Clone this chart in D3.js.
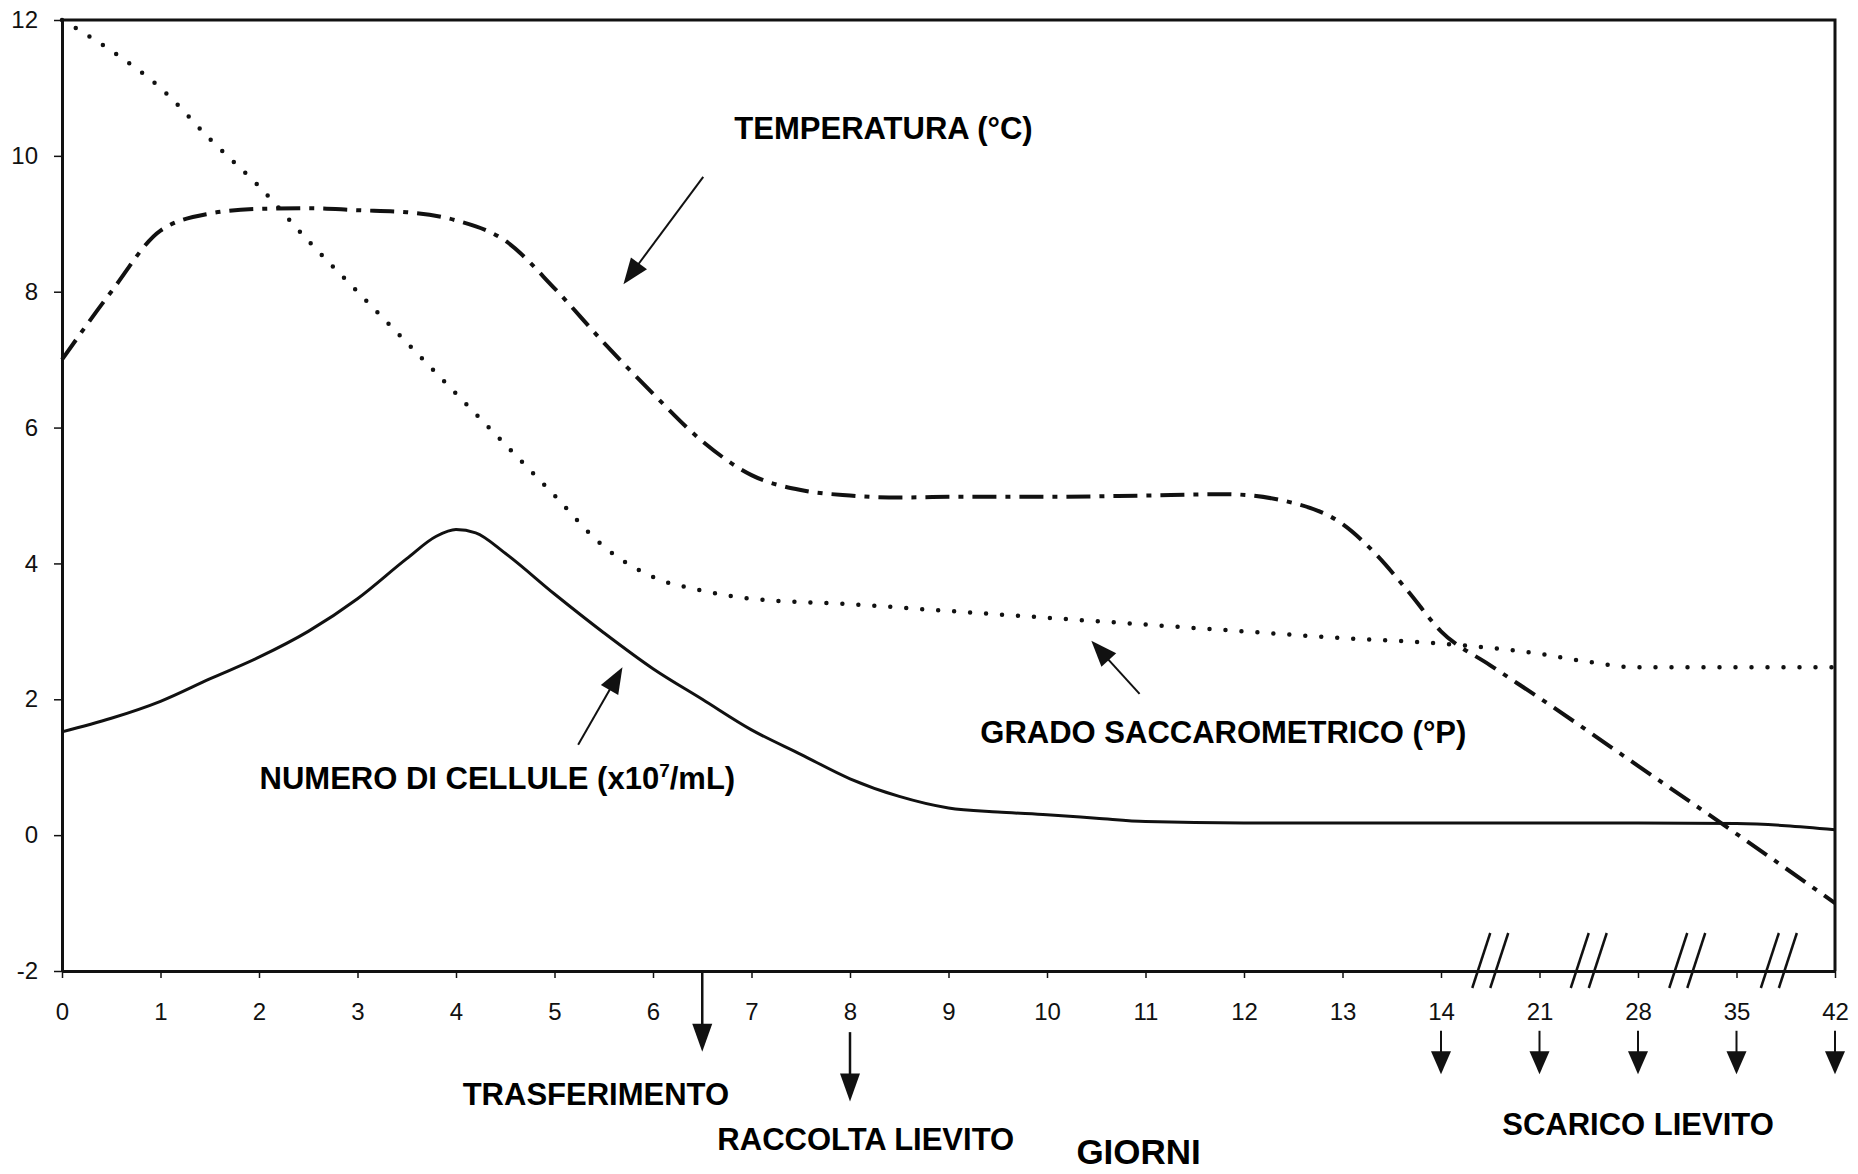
<!DOCTYPE html>
<html>
<head>
<meta charset="utf-8">
<script src="https://cdn.jsdelivr.net/npm/d3@7"></script>
<style>
  body { margin: 0; background: #fff; }
  text { font-family: "Liberation Sans", Arial, sans-serif; }
</style>
</head>
<body>
<div id="chart"></div>
<script>
// x positions are axis slots: 0..13 = days, then 14, 21, 28, 35, 42 (broken axis)
const xTickLabels = ["0","1","2","3","4","5","6","7","8","9","10","11","12","13","14","21","28","35","42"];
const xTickPos = d3.range(xTickLabels.length);
const yTicks = [-2, 0, 2, 4, 6, 8, 10, 12];

// temperatura (°C)
const tempPos = [0,0.5,1,1.5,2,2.5,3,3.5,4,4.5,5,5.5,6,6.5,7,7.5,8,8.5,9,10,11,11.8,12.5,13,13.33,13.66,14,14.5,15,16,17,18];
const tempVal = [7.0,8.0,8.9,9.15,9.22,9.23,9.2,9.17,9.05,8.75,8.05,7.25,6.5,5.8,5.3,5.08,5.0,4.97,4.98,4.98,5.0,5.02,4.89,4.58,4.15,3.6,3.0,2.5,2.02,1.02,0.02,-1.0];

// grado saccarometrico (°P)
const gradoPos = [0,0.5,1,1.5,2,2.5,3,3.5,4,4.5,5,5.5,6,6.5,7,8,9,10,11,12,13,14,15,15.5,16,17,18];
const gradoVal = [12.0,11.55,11.0,10.25,9.55,8.75,8.0,7.25,6.5,5.75,5.0,4.25,3.8,3.6,3.48,3.4,3.3,3.2,3.1,3.0,2.9,2.82,2.67,2.55,2.47,2.47,2.47];

// numero di cellule (x10^7/mL)
const cellPos = [0,0.5,1,1.5,2,2.5,3,3.5,3.8,4,4.2,4.5,5,5.5,6,6.5,7,7.5,8,8.5,9,9.5,10,10.5,11,12,13,14,15,16,17,17.5,18];
const cellVal = [1.52,1.72,1.97,2.3,2.62,3.0,3.48,4.07,4.4,4.5,4.45,4.15,3.55,2.98,2.45,2.0,1.55,1.19,0.83,0.57,0.4,0.34,0.3,0.25,0.2,0.18,0.18,0.18,0.18,0.18,0.17,0.14,0.08];

// annotations (in axis units)
const labelText = ["TEMPERATURA (°C)", "GRADO SACCAROMETRICO (°P)", "TRASFERIMENTO", "RACCOLTA LIEVITO", "SCARICO LIEVITO"];
const labelPos = [[8.34, 10.25], [11.79, 1.35], [5.42, -3.97], [8.16, -4.64], [16.0, -4.42]];
const cellLabelPos = [4.42, 0.68];
const giorniPos = [10.93, -4.84];

const pointerFrom = [[6.51, 9.69], [10.94, 2.08], [5.24, 1.33]];
const pointerTo = [[5.70, 8.11], [10.45, 2.86], [5.69, 2.47]];

const eventPos = [6.5, 8];
const eventFrom = [-2, -2.9];
const eventTo = [-3.19, -3.92];

const scaricoPos = [14, 15, 16, 17, 18];
const scaricoFrom = -2.88, scaricoTo = -3.52;

const breakPos = [14.5, 15.5, 16.5, 17.43];

const W = 1858, H = 1174;
const x = d3.scaleLinear().domain([0, 18]).range([62, 1835]);
const y = d3.scaleLinear().domain([-2, 12]).range([971, 20]);

const svg = d3.select("#chart").append("svg")
    .attr("width", W)
    .attr("height", H);

// frame top + right
svg.append("path")
    .attr("d", "M" + x(0) + "," + y(12) + "H" + x(18) + "V" + y(-2))
    .style("fill", "none")
    .style("stroke", "#111")
    .style("stroke-width", 3)

const xAxis = svg.append("g")
    .attr("transform", "translate(0," + y(-2) + ")")
    .call(d3.axisBottom(x)
        .tickValues(xTickPos)
        .tickFormat((d, i) => xTickLabels[i])
        .tickSize(7)
        .tickSizeOuter(0)
        .tickPadding(25))
xAxis.select(".domain").style("stroke", "#111").style("stroke-width", 3)
xAxis.selectAll(".tick line").style("stroke", "#111").style("stroke-width", 1.5)
xAxis.selectAll(".tick text").style("font-size", "24px").style("fill", "#111")

const yAxis = svg.append("g")
    .attr("transform", "translate(" + x(0) + ",0)")
    .call(d3.axisLeft(y)
        .tickValues(yTicks)
        .tickFormat(d => String(d))
        .tickSize(8)
        .tickSizeOuter(0)
        .tickPadding(16))
yAxis.select(".domain").style("stroke", "#111").style("stroke-width", 3)
yAxis.selectAll(".tick line").style("stroke", "#111").style("stroke-width", 1.5)
yAxis.selectAll(".tick text").style("font-size", "24px").style("fill", "#111")

// axis breaks
breakPos.forEach(function(b) {
    [-9, 9].forEach(function(off) {
        const cx = x(b) + off
        svg.append("line")
            .attr("x1", cx - 9).attr("y1", y(-2) + 17)
            .attr("x2", cx + 9).attr("y2", y(-2) - 38)
            .style("stroke", "#111")
            .style("stroke-width", 2.5)
    })
})

const line = d3.line()
    .x(d => x(d[0]))
    .y(d => y(d[1]))
    .curve(d3.curveMonotoneX)

svg.append("path")
    .datum(d3.zip(gradoPos, gradoVal))
    .attr("d", line)
    .style("fill", "none")
    .style("stroke", "#111")
    .style("stroke-width", 4.5)
    .style("stroke-linecap", "round")
    .style("stroke-dasharray", "0,16")

svg.append("path")
    .datum(d3.zip(tempPos, tempVal))
    .attr("d", line)
    .style("fill", "none")
    .style("stroke", "#111")
    .style("stroke-width", 4)
    .style("stroke-dasharray", "24,9,5,9")

svg.append("path")
    .datum(d3.zip(cellPos, cellVal))
    .attr("d", line)
    .style("fill", "none")
    .style("stroke", "#111")
    .style("stroke-width", 3)

function arrow(x1, y1, x2, y2, w, len, hw) {
    const dx = x2 - x1, dy = y2 - y1, L = Math.hypot(dx, dy),
        ux = dx / L, uy = dy / L,
        bx = x2 - ux * len, by = y2 - uy * len
    svg.append("line")
        .attr("x1", x1).attr("y1", y1)
        .attr("x2", bx + ux * 2).attr("y2", by + uy * 2)
        .style("stroke", "#111")
        .style("stroke-width", w)
    svg.append("path")
        .attr("d", "M" + x2 + "," + y2 + "L" + (bx - uy * hw) + "," + (by + ux * hw) +
            "L" + (bx + uy * hw) + "," + (by - ux * hw) + "Z")
        .style("fill", "#111")
}

pointerFrom.forEach(function(p, i) {
    const q = pointerTo[i]
    arrow(x(p[0]), y(p[1]), x(q[0]), y(q[1]), 2, 26, 10)
})
eventPos.forEach(function(p, i) {
    arrow(x(p), y(eventFrom[i]), x(p), y(eventTo[i]), 2.5, 28, 10)
})
scaricoPos.forEach(function(p) {
    arrow(x(p), y(scaricoFrom), x(p), y(scaricoTo), 2, 23, 10)
})

svg.selectAll("text.label")
    .data(labelText)
    .join("text")
    .attr("class", "label")
    .attr("x", (d, i) => x(labelPos[i][0]))
    .attr("y", (d, i) => y(labelPos[i][1]))
    .attr("text-anchor", "middle")
    .style("font-size", "31px")
    .style("font-weight", "bold")
    .style("fill", "#000")
    .text(d => d)

const cellLabel = svg.append("text")
    .attr("x", x(cellLabelPos[0]))
    .attr("y", y(cellLabelPos[1]))
    .attr("text-anchor", "middle")
    .style("font-size", "31px")
    .style("font-weight", "bold")
    .style("fill", "#000")
cellLabel.append("tspan").text("NUMERO DI CELLULE (x10")
cellLabel.append("tspan").attr("dy", -12).style("font-size", "19px").text("7")
cellLabel.append("tspan").attr("dy", 12).text("/mL)")

svg.append("text")
    .attr("x", x(giorniPos[0]))
    .attr("y", y(giorniPos[1]))
    .attr("text-anchor", "middle")
    .style("font-size", "35px")
    .style("font-weight", "bold")
    .style("fill", "#000")
    .text("GIORNI")
</script>
</body>
</html>
